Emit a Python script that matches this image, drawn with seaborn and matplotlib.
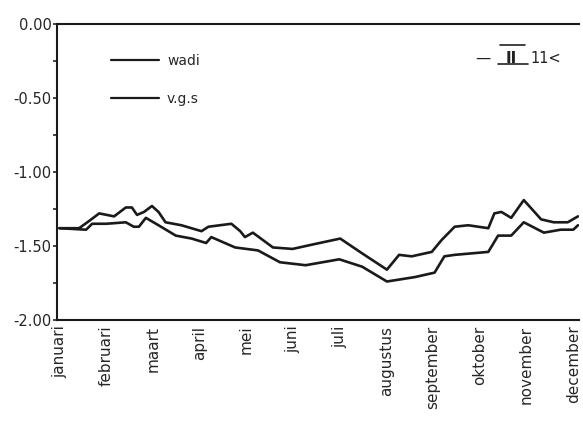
import numpy as np
import pandas as pd
import matplotlib
matplotlib.use("Agg")
import matplotlib.pyplot as plt
import seaborn as sns
from matplotlib.lines import Line2D

# --- data ---
months = ["januari", "februari", "maart", "april", "mei", "juni", "juli",
          "augustus", "september", "oktober", "november", "december"]

# upper line
pos_wadi = [0.00, 0.42, 0.64, 0.85, 1.17, 1.42, 1.55, 1.66, 1.81, 1.98, 2.12, 2.27,
            2.61, 3.04, 3.19, 3.68, 3.87, 3.97, 4.14, 4.57, 4.99, 5.42, 6.01, 6.48,
            7.01, 7.27, 7.54, 7.97, 8.18, 8.46, 8.75, 9.18, 9.31, 9.46, 9.67, 9.94,
            10.31, 10.58, 10.88, 11.10]
wadi = [-1.38, -1.38, -1.33, -1.28, -1.30, -1.24, -1.24, -1.29, -1.27, -1.23, -1.27, -1.34,
        -1.36, -1.40, -1.37, -1.35, -1.40, -1.44, -1.41, -1.51, -1.52, -1.49, -1.45, -1.55,
        -1.66, -1.56, -1.57, -1.54, -1.46, -1.37, -1.36, -1.38, -1.28, -1.27, -1.31, -1.19,
        -1.32, -1.34, -1.34, -1.30]

# lower line
pos_vgs = [0.00, 0.57, 0.70, 1.00, 1.42, 1.59, 1.70, 1.85, 2.12, 2.49, 2.83, 3.14,
           3.25, 3.76, 4.25, 4.72, 5.27, 5.99, 6.48, 7.01, 7.61, 8.03, 8.24, 8.46,
           9.18, 9.39, 9.67, 9.94, 10.37, 10.73, 11.00, 11.10]
vgs = [-1.38, -1.39, -1.35, -1.35, -1.34, -1.37, -1.37, -1.31, -1.36, -1.43, -1.45, -1.48,
       -1.44, -1.51, -1.53, -1.61, -1.63, -1.59, -1.64, -1.74, -1.71, -1.68, -1.57, -1.56,
       -1.54, -1.43, -1.43, -1.34, -1.41, -1.39, -1.39, -1.36]

y_ticks = [0.0, -0.5, -1.0, -1.5, -2.0]

df = pd.concat([
    pd.DataFrame({"maand": pos_wadi, "waarde": wadi, "reeks": "wadi"}),
    pd.DataFrame({"maand": pos_vgs, "waarde": vgs, "reeks": "v.g.s"}),
], ignore_index=True)

# --- plot ---
sns.set_style("ticks")
plt.rcParams["font.family"] = ["DejaVu Sans"]

fig = plt.figure(figsize=(5.83, 4.23), dpi=100)
ax = fig.add_axes([0.098, 0.2435, 0.895, 0.70])

sns.lineplot(data=df, x="maand", y="waarde", hue="reeks",
             palette={"wadi": "#1a1a1a", "v.g.s": "#1a1a1a"},
             linewidth=1.9, ax=ax, legend=False, sort=False)

ax.set_xlim(-0.05, 11.12)
ax.set_ylim(-2.0, 0.0)
ax.set_xticks(range(len(months)))
ax.set_xticklabels(months, rotation=90, fontsize=11)
ax.tick_params(axis="x", length=0, pad=4)
ax.set_yticks(y_ticks)
ax.set_yticklabels([f"{v:.2f}" for v in y_ticks], fontsize=10.5)
ax.set_yticks([-0.25, -0.75, -1.25, -1.75], minor=True)
ax.tick_params(axis="y", which="both", length=3, width=1.2, pad=1)
ax.set_xlabel("")
ax.set_ylabel("")

for side in ["left", "bottom", "top"]:
    ax.spines[side].set_linewidth(1.5)
    ax.spines[side].set_color("#1a1a1a")
ax.spines["right"].set_visible(False)

# legend drawn as in the original (line samples + labels, no frame)
handles = [Line2D([], [], color="#1a1a1a", lw=1.6),
           Line2D([], [], color="#1a1a1a", lw=1.6)]
ax.legend(handles, ["wadi", "v.g.s"], loc="upper left", bbox_to_anchor=(0.08, 0.94),
          frameon=False, fontsize=10, handlelength=3.4, labelspacing=1.7,
          handletextpad=0.6)

# handwritten annotation on the scan
fig.text(0.815, 0.852, "\u2014", fontsize=11, color="#222222")
fig.text(0.868, 0.852, "II", fontsize=11, color="#222222", fontweight="bold")
fig.text(0.91, 0.852, "11<", fontsize=10.5, color="#222222")
fig.add_artist(Line2D([0.858, 0.9], [0.893, 0.893], color="#222222", lw=1.2))
fig.add_artist(Line2D([0.855, 0.905], [0.848, 0.848], color="#222222", lw=1.2))

fig.savefig("out.png", dpi=100)
